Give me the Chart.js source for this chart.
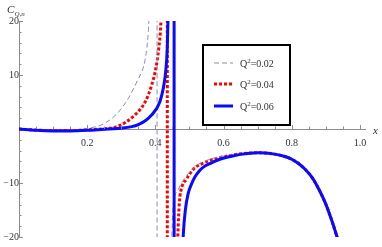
<!DOCTYPE html>
<html>
<head>
<meta charset="utf-8">
<script src="https://cdn.jsdelivr.net/npm/chart.js@4"></script>
<style>
  html, body { margin: 0; padding: 0; background: #fff; }
  #wrap { width: 382px; height: 247px; }
</style>
</head>
<body>
<div id="wrap"><canvas id="chart"></canvas></div>
<script>
// Datos (valores fuera de rango = ramas que se salen del eje)
const seriesLabels = ['0.02', '0.04', '0.06'];

const xs02 = [0, 0.05, 0.1, 0.15, 0.2, 0.25, 0.29, 0.32, 0.35, 0.365, 0.375, 0.381, 0.386, 0.405, 0.4051, 0.443, 0.452, 0.465, 0.48, 0.492, 0.52, 0.56, 0.6, 0.65, 0.7, 0.75, 0.78, 0.8, 0.82, 0.84, 0.86, 0.88, 0.9, 0.92, 0.933, 0.94];
const ys02 = [0, -0.15, -0.25, -0.2, 0.1, 1.0, 3.0, 5.6, 9.3, 11.5, 15, 20, 30, 40, -40, -30, -14.4, -11.5, -9.6, -8.6, -6.8, -5.6, -5.0, -4.6, -4.4, -4.65, -5.1, -5.6, -6.4, -7.5, -9.0, -11.2, -13.9, -17.4, -20, -21.5];

const xs04 = [0, 0.05, 0.1, 0.15, 0.2, 0.25, 0.29, 0.34, 0.37, 0.389, 0.401, 0.41, 0.416, 0.42, 0.435, 0.4351, 0.458, 0.47, 0.478, 0.49, 0.5, 0.515, 0.531, 0.56, 0.589, 0.62, 0.65, 0.7, 0.75, 0.78, 0.8, 0.82, 0.84, 0.86, 0.88, 0.9, 0.92, 0.933, 0.94];
const ys04 = [0, -0.2, -0.3, -0.3, -0.15, 0.05, 0.5, 2.6, 5.0, 8.1, 11.1, 15, 19.5, 28, 40, -40, -32, -14, -10.7, -9.4, -8.4, -7.2, -6.6, -5.8, -5.3, -4.9, -4.6, -4.4, -4.65, -5.1, -5.6, -6.4, -7.5, -9.0, -11.2, -13.9, -17.4, -20, -21.5];

const xs06 = [0, 0.05, 0.1, 0.15, 0.2, 0.25, 0.29, 0.35, 0.389, 0.413, 0.426, 0.431, 0.435, 0.437, 0.44, 0.455, 0.4551, 0.478, 0.482, 0.488, 0.496, 0.506, 0.516, 0.53, 0.54, 0.56, 0.589, 0.62, 0.65, 0.7, 0.75, 0.78, 0.8, 0.82, 0.84, 0.86, 0.88, 0.9, 0.92, 0.933, 0.94];
const ys06 = [0, -0.25, -0.35, -0.35, -0.25, -0.05, 0.1, 0.8, 2.6, 5.0, 8.5, 11.1, 15, 20, 30, 40, -40, -26, -19.5, -15, -12, -10.2, -8.9, -7.7, -7.1, -6.4, -5.6, -5.1, -4.7, -4.4, -4.65, -5.1, -5.6, -6.4, -7.5, -9.0, -11.2, -13.9, -17.4, -20, -21.5];

const xTicks = [0.2, 0.4, 0.6, 0.8, 1.0];
const yTicks = [-20, -10, 10, 20];
const xMinorStep = 0.05;
const yMinorStep = 2;

const toPoints = (xs, ys) => xs.map((x, i) => ({ x: x, y: ys[i] }));

const serif = "'Liberation Serif', 'DejaVu Serif', serif";
const axisColor = '#8c8c8c';
const textColor = '#333';

// Marcas mayores y menores al estilo Mathematica
const tickMarks = {
    id: 'tickMarks',
    afterDraw(chart) {
        const { ctx, scales: { x, y } } = chart;
        const x0 = x.getPixelForValue(0);
        const y0 = y.getPixelForValue(0);
        ctx.save();
        ctx.strokeStyle = axisColor;
        ctx.lineWidth = 1;
        ctx.beginPath();
        for (let v = xMinorStep; v <= x.max + 1e-9; v += xMinorStep) {
            const major = xTicks.some(t => Math.abs(t - v) < 1e-6);
            const px = Math.round(x.getPixelForValue(v)) + 0.5;
            ctx.moveTo(px, y0);
            ctx.lineTo(px, y0 - (major ? 4 : 2.5));
        }
        for (let v = y.min; v <= y.max + 1e-9; v += yMinorStep) {
            if (Math.abs(v) < 1e-9) continue;
            const major = yTicks.some(t => Math.abs(t - v) < 1e-6);
            const py = Math.round(y.getPixelForValue(v)) + 0.5;
            ctx.moveTo(x0, py);
            ctx.lineTo(x0 + (major ? 4 : 2.5), py);
        }
        ctx.stroke();

        // titulos de los ejes
        ctx.fillStyle = textColor;
        ctx.textBaseline = 'alphabetic';
        ctx.font = 'italic 11px ' + serif;
        ctx.fillText('C', 7, 13);
        ctx.font = 'italic 7px ' + serif;
        ctx.fillText('Q,n', 14.5, 16);
        ctx.font = 'italic 11px ' + serif;
        ctx.fillText('x', 373, 134);
        ctx.restore();
    }
};

// Leyenda con recuadro
const boxLegend = {
    id: 'boxLegend',
    afterDraw(chart) {
        const { ctx } = chart;
        const left = 203, top = 45, w = 87, h = 80;
        const rows = [63, 84, 106];
        ctx.save();
        ctx.fillStyle = '#fff';
        ctx.fillRect(left, top, w, h);
        ctx.strokeStyle = '#000';
        ctx.lineWidth = 2;
        ctx.strokeRect(left, top, w, h);
        chart.data.datasets.forEach((ds, i) => {
            const yy = rows[i];
            ctx.strokeStyle = ds.legendColor || ds.borderColor;
            ctx.lineWidth = ds.borderWidth;
            ctx.setLineDash(ds.borderDash || []);
            ctx.beginPath();
            ctx.moveTo(214, yy);
            ctx.lineTo(233, yy);
            ctx.stroke();
            ctx.setLineDash([]);
            ctx.fillStyle = textColor;
            ctx.textBaseline = 'alphabetic';
            ctx.font = '10px ' + serif;
            ctx.fillText('Q', 240, yy + 4);
            const qw = ctx.measureText('Q').width;
            ctx.font = '7px ' + serif;
            ctx.fillText('2', 240 + qw, yy - 0.5);
            const sw = ctx.measureText('2').width;
            ctx.font = '10px ' + serif;
            ctx.fillText('=' + seriesLabels[i], 240 + qw + sw, yy + 4);
        });
        ctx.restore();
    }
};

new Chart(document.getElementById('chart'), {
    type: 'line',
    data: {
        datasets: [
            {
                label: 'Q²=' + seriesLabels[0],
                data: toPoints(xs02, ys02),
                borderColor: '#8a8ab8',
                legendColor: '#8c8c9c',
                borderWidth: 1,
                borderDash: [5, 3],
                order: 0
            },
            {
                label: 'Q²=' + seriesLabels[1],
                data: toPoints(xs04, ys04),
                borderColor: '#ff0000',
                borderWidth: 3,
                borderDash: [3, 2],
                order: 1
            },
            {
                label: 'Q²=' + seriesLabels[2],
                data: toPoints(xs06, ys06),
                borderColor: '#0a0aff',
                borderWidth: 3,
                order: -1
            }
        ]
    },
    options: {
        responsive: true,
        maintainAspectRatio: false,
        animation: false,
        layout: { padding: { left: 19, right: 17, top: 21, bottom: 6 } },
        elements: {
            point: { radius: 0 },
            line: { cubicInterpolationMode: 'monotone', fill: false, borderCapStyle: 'butt' }
        },
        plugins: { legend: { display: false }, tooltip: { enabled: false } },
        scales: {
            x: {
                type: 'linear',
                position: { y: 0 },
                min: 0,
                max: 1.015,
                afterBuildTicks: (axis) => { axis.ticks = xTicks.map(v => ({ value: v })); },
                grid: { display: false },
                border: { display: true, color: axisColor, width: 1 },
                ticks: {
                    padding: 0,
                    color: textColor,
                    font: { family: serif, size: 10 },
                    callback: (v) => v.toFixed(1)
                }
            },
            y: {
                type: 'linear',
                position: { x: 0 },
                min: -20,
                max: 20,
                afterBuildTicks: (axis) => { axis.ticks = yTicks.map(v => ({ value: v })); },
                grid: { display: false },
                border: { display: true, color: axisColor, width: 1 },
                ticks: {
                    padding: 4,
                    color: textColor,
                    font: { family: serif, size: 10 },
                    callback: (v) => (v < 0 ? '\u2212' + Math.abs(v) : String(v))
                }
            }
        }
    },
    plugins: [tickMarks, boxLegend]
});
</script>
</body>
</html>
